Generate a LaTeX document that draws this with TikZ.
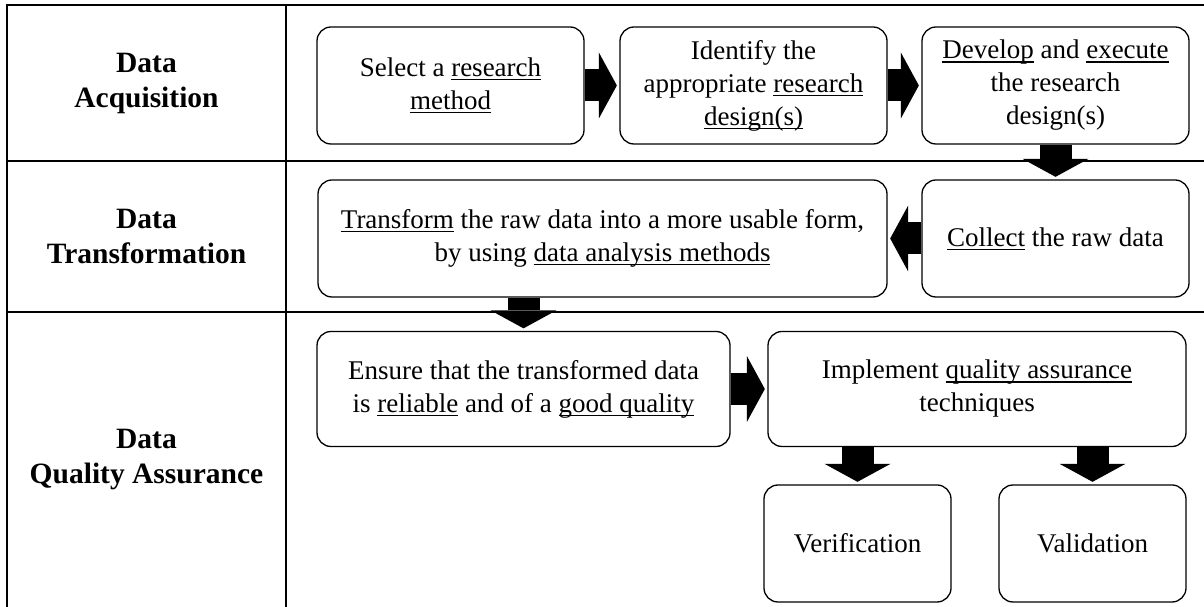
\documentclass[tikz,border=0pt]{standalone}
\usepackage{fontspec}
\setmainfont{Liberation Serif}
\usetikzlibrary{arrows.meta}

% underline at a fixed depth below the baseline
\newsavebox{\ulbox}
\newcommand{\uln}[1]{\sbox{\ulbox}{#1}\rlap{\rule[-3.6pt]{\wd\ulbox}{1.1pt}}\usebox{\ulbox}}

\begin{document}
\begin{tikzpicture}
	[ x=1pt, y=1pt,
	  grid/.style={line width=1.5pt},
	  stage/.style={font=\fontsize{29.5}{35}\selectfont\bfseries, align=center},
	  task/.style={draw, line width=1.3pt, rounded corners=14pt, inner sep=0pt,
	               minimum height=117pt, align=center, font=\fontsize{27}{33}\selectfont},
	  flow/.style={line width=32pt, -{Triangle[length=18pt,width=66pt,line width=0pt]},
	               shorten >=2.5pt} ]

	\useasboundingbox (0,0) rectangle (1204,607);

	% table lines
	\draw[grid] (7,0) -- (7,602) -- (1204,602);
	\draw[grid] (286,0) -- (286,602);
	\draw[grid] (7,446) -- (1204,446);
	\draw[grid] (7,295) -- (1204,295);

	% stages
	\node[stage] (acq) at (146.5,524) {Data\\Acquisition};
	\node[stage] (trf) at (146.5,370.5) {Data\\Transformation};
	\node[stage] (qa) at (146.5,147.5) {Data\\Quality Assurance};

	% acquisition
	\node[task, minimum width=267pt] (sel) at (450.5,521.5) {Select a \uln{research}\\\uln{method}};
	\node[task, minimum width=267pt] (idn) at (753.5,521.5) {Identify the\\appropriate \uln{research}\\\uln{design(s)}};
	\node[task, minimum width=267pt] (dev) at (1055.5,521.5) {\uln{Develop} and \uln{execute}\\the research\\design(s)};

	% transformation
	\node[task, minimum width=267pt] (col) at (1055.5,368.5) {\uln{Collect} the raw data};
	\node[task, minimum width=569pt] (tfm) at (602.5,368.5) {\uln{Transform} the raw data into a more usable form,\\by using \uln{data analysis methods}};

	% quality assurance
	\node[task, minimum width=413pt, minimum height=115pt] (ens) at (523.5,218) {Ensure that the transformed data\\is \uln{reliable} and of a \uln{good quality}};
	\node[task, minimum width=418pt, minimum height=115pt] (imp) at (977,218) {Implement \uln{quality assurance}\\techniques};
	\node[task, minimum width=187pt] (ver) at (857.5,63.5) {Verification};
	\node[task, minimum width=187pt] (val) at (1092.5,63.5) {Validation};

	\draw[flow] (sel) -- (idn);
	\draw[flow] (idn) -- (dev);
	\draw[flow] (dev) -- (col);
	\draw[flow] (col) -- (tfm);
	\draw[flow] (tfm.south -| ens.north) -- (ens.north);
	\draw[flow] (ens) -- (imp);
	\draw[flow] (imp.south -| ver.north) -- (ver.north);
	\draw[flow] (imp.south -| val.north) -- (val.north);

\end{tikzpicture}
\end{document}
